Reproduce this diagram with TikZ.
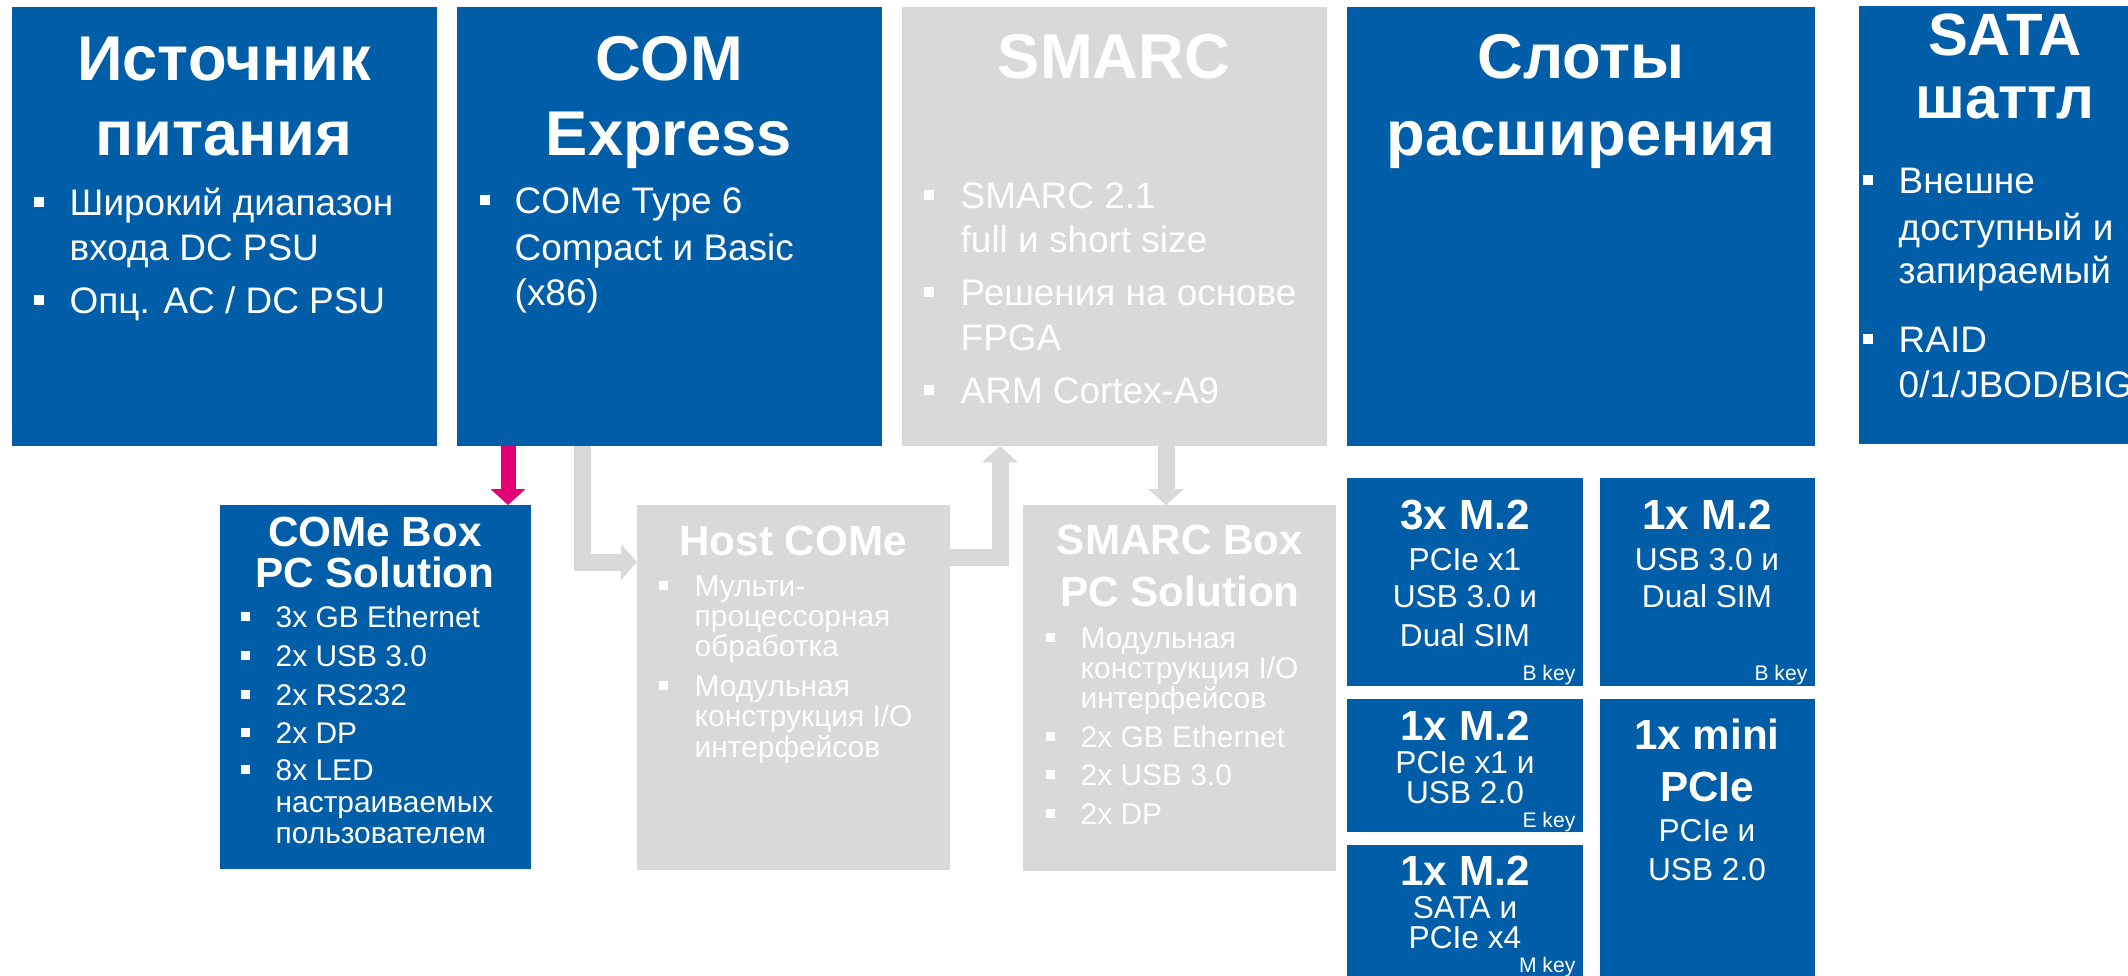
\documentclass[tikz,border=0pt]{standalone}
\usepackage{fontspec}
\setmainfont{Liberation Sans}
\usetikzlibrary{arrows.meta}
\definecolor{kblue}{RGB}{0,93,167}
\definecolor{kgray}{RGB}{217,217,217}
\definecolor{kred}{RGB}{226,0,116}
\tikzset{
  box/.style={rectangle,fill=kblue,inner sep=0pt,outer sep=0pt,anchor=north west},
  greybox/.style={box,fill=kgray},
  txt/.style={text=white,inner sep=0pt,anchor=base},
  bigtitle/.style={txt,font=\bfseries\fontsize{18}{20}\selectfont},
  satatitle/.style={txt,font=\bfseries\fontsize{17}{19}\selectfont},
  item/.style={txt,anchor=base west,font=\fontsize{10.5}{12}\selectfont},
  sq/.style={fill=white,inner sep=0pt,minimum size=0.1cm},
  smalltitle/.style={txt,font=\bfseries\fontsize{12}{14}\selectfont},
  smallitem/.style={txt,anchor=base west,font=\fontsize{8.5}{10}\selectfont},
  smallsq/.style={sq,minimum size=0.09cm},
  slottext/.style={txt,font=\fontsize{9}{11}\selectfont},
  keytext/.style={txt,anchor=base east,font=\fontsize{6}{7}\selectfont},
  greyarrow/.style={draw=kgray,line width=0.17cm,-{Triangle[width=0.35cm,length=0.16cm]}},
  redarrow/.style={draw=kred,line width=0.15cm,-{Triangle[width=0.34cm,length=0.16cm]}}
}
\begin{document}
\begin{tikzpicture}[x=0.01cm,y=-0.01cm]
    \useasboundingbox (0,0) rectangle (2128,975);
    \clip (0,0) rectangle (2128,975);
    % top row
    \node[box,minimum width=4.25cm,minimum height=4.39cm] (psu) at (12,7) {};
    \node[box,minimum width=4.25cm,minimum height=4.39cm] (come) at (457,7) {};
    \node[greybox,minimum width=4.25cm,minimum height=4.39cm] (smarc) at (902,7) {};
    \node[box,minimum width=4.68cm,minimum height=4.39cm] (slots) at (1347,7) {};
    \node[box,minimum width=3.2cm,minimum height=4.38cm] (sata) at (1859,6) {};
    % bottom row
    \node[box,minimum width=3.11cm,minimum height=3.64cm] (comebox) at (220,505) {};
    \node[greybox,minimum width=3.13cm,minimum height=3.65cm] (host) at (637,505) {};
    \node[greybox,minimum width=3.13cm,minimum height=3.66cm] (smarcbox) at (1023,505) {};
    \node[box,minimum width=2.36cm,minimum height=2.08cm] (mtwoa) at (1347,478) {};
    \node[box,minimum width=2.15cm,minimum height=2.08cm] (mtwob) at (1600,478) {};
    \node[box,minimum width=2.36cm,minimum height=1.33cm] (mtwoe) at (1347,699) {};
    \node[box,minimum width=2.36cm,minimum height=1.4cm] (mtwom) at (1347,845) {};
    \node[box,minimum width=2.15cm,minimum height=2.86cm] (minipcie) at (1600,699) {};
    % arrows
    \coordinate (c1) at (582,562);
    \coordinate (c2) at (1000,557);
    \coordinate (c3) at (508,0);
    \coordinate (c4) at (1166,0);
    \draw[greyarrow] (c1 |- come.south) -- (c1) -- (c1 -| host.west);
    \draw[greyarrow] (c2 -| host.east) -- (c2) -- (c2 |- smarc.south);
    \draw[greyarrow] (c4 |- smarc.south) -- (c4 |- smarcbox.north);
    \draw[redarrow] (c3 |- come.south) -- (c3 |- comebox.north);
    % power supply
    \node[bigtitle] (psu-t1) at (224,80) {Источник};
    \node[bigtitle] (psu-t2) at (224,155) {питания};
    \node[sq] (psu-b1) at (39,202) {};
    \node[item] (psu-i1) at (69,215) {Широкий диапазон};
    \node[item] (psu-i2) at (69,260) {входа DC PSU};
    \node[sq] (psu-b2) at (39,300) {};
    \node[item] (psu-i3) at (69,313) {Опц. AC / DC PSU};
    % com express
    \node[bigtitle] (come-t1) at (669,80) {COM};
    \node[bigtitle] (come-t2) at (669,155) {Express};
    \node[sq] (come-b1) at (485,200) {};
    \node[item] (come-i1) at (514,213) {COMe Type 6};
    \node[item] (come-i2) at (514,260) {Compact и Basic};
    \node[item] (come-i3) at (514,305) {(x86)};
    % smarc
    \node[bigtitle] (smarc-t1) at (1114,78) {SMARC};
    \node[sq] (smarc-b1) at (929,195) {};
    \node[item] (smarc-i1) at (960,208) {SMARC 2.1};
    \node[item] (smarc-i2) at (960,252) {full и short size};
    \node[sq] (smarc-b2) at (929,292) {};
    \node[item] (smarc-i3) at (960,305) {Решения на основе};
    \node[item] (smarc-i4) at (960,350) {FPGA};
    \node[sq] (smarc-b3) at (929,390) {};
    \node[item] (smarc-i5) at (960,403) {ARM Cortex-A9};
    % slots
    \node[bigtitle] (slots-t1) at (1581,78) {Слоты};
    \node[bigtitle] (slots-t2) at (1581,155) {расширения};
    % sata
    \node[satatitle] (sata-t1) at (2005,55) {SATA};
    \node[satatitle] (sata-t2) at (2005,118) {шаттл};
    \node[sq] (sata-b1) at (1868,180) {};
    \node[item] (sata-i1) at (1898,193) {Внешне};
    \node[item] (sata-i2) at (1898,240) {доступный и};
    \node[item] (sata-i3) at (1898,283) {запираемый};
    \node[sq] (sata-b2) at (1868,339) {};
    \node[item] (sata-i4) at (1898,352) {RAID};
    \node[item] (sata-i5) at (1898,397) {0/1/JBOD/BIG};
    % come box
    \node[smalltitle] (cb-t1) at (375,546) {COMe Box};
    \node[smalltitle] (cb-t2) at (375,587) {PC Solution};
    \node[smallsq] (cb-b1) at (245,616) {};
    \node[smallitem] (cb-i1) at (275,627) {3x GB Ethernet};
    \node[smallsq] (cb-b2) at (245,655) {};
    \node[smallitem] (cb-i2) at (275,666) {2x USB 3.0};
    \node[smallsq] (cb-b3) at (245,694) {};
    \node[smallitem] (cb-i3) at (275,705) {2x RS232};
    \node[smallsq] (cb-b4) at (245,732) {};
    \node[smallitem] (cb-i4) at (275,743) {2x DP};
    \node[smallsq] (cb-b5) at (245,769) {};
    \node[smallitem] (cb-i5) at (275,780) {8x LED};
    \node[smallitem] (cb-i6) at (275,812) {настраиваемых};
    \node[smallitem] (cb-i7) at (275,843) {пользователем};
    % host come
    \node[smalltitle] (host-t1) at (793,555) {Host COMe};
    \node[smallsq] (host-b1) at (663,585) {};
    \node[smallitem] (host-i1) at (694,596) {Мульти-};
    \node[smallitem] (host-i2) at (694,626) {процессорная};
    \node[smallitem] (host-i3) at (694,656) {обработка};
    \node[smallsq] (host-b2) at (663,685) {};
    \node[smallitem] (host-i4) at (694,696) {Модульная};
    \node[smallitem] (host-i5) at (694,726) {конструкция I/O};
    \node[smallitem] (host-i6) at (694,757) {интерфейсов};
    % smarc box
    \node[smalltitle] (sb-t1) at (1180,554) {SMARC Box};
    \node[smalltitle] (sb-t2) at (1180,606) {PC Solution};
    \node[smallsq] (sb-b1) at (1050,637) {};
    \node[smallitem] (sb-i1) at (1080,648) {Модульная};
    \node[smallitem] (sb-i2) at (1080,678) {конструкция I/O};
    \node[smallitem] (sb-i3) at (1080,708) {интерфейсов};
    \node[smallsq] (sb-b2) at (1050,736) {};
    \node[smallitem] (sb-i4) at (1080,747) {2x GB Ethernet};
    \node[smallsq] (sb-b3) at (1050,774) {};
    \node[smallitem] (sb-i5) at (1080,785) {2x USB 3.0};
    \node[smallsq] (sb-b4) at (1050,813) {};
    \node[smallitem] (sb-i6) at (1080,824) {2x DP};
    % m.2 slots
    \node[smalltitle] (ma-t1) at (1465,529) {3x M.2};
    \node[slottext] (ma-i1) at (1465,570) {PCIe x1};
    \node[slottext] (ma-i2) at (1465,607) {USB 3.0 и};
    \node[slottext] (ma-i3) at (1465,646) {Dual SIM};
    \node[keytext] (ma-k) at (1576,680) {B key};
    \node[smalltitle] (mb-t1) at (1707,529) {1x M.2};
    \node[slottext] (mb-i1) at (1707,570) {USB 3.0 и};
    \node[slottext] (mb-i2) at (1707,607) {Dual SIM};
    \node[keytext] (mb-k) at (1808,680) {B key};
    \node[smalltitle] (me-t1) at (1465,740) {1x M.2};
    \node[slottext] (me-i1) at (1465,773) {PCIe x1 и};
    \node[slottext] (me-i2) at (1465,803) {USB 2.0};
    \node[keytext] (me-k) at (1576,827) {E key};
    \node[smalltitle] (mm-t1) at (1465,885) {1x M.2};
    \node[slottext] (mm-i1) at (1465,918) {SATA и};
    \node[slottext] (mm-i2) at (1465,948) {PCIe x4};
    \node[keytext] (mm-k) at (1576,972) {M key};
    \node[smalltitle] (mp-t1) at (1707,749) {1x mini};
    \node[smalltitle] (mp-t2) at (1707,801) {PCIe};
    \node[slottext] (mp-i1) at (1707,841) {PCIe и};
    \node[slottext] (mp-i2) at (1707,880) {USB 2.0};
\end{tikzpicture}
\end{document}
